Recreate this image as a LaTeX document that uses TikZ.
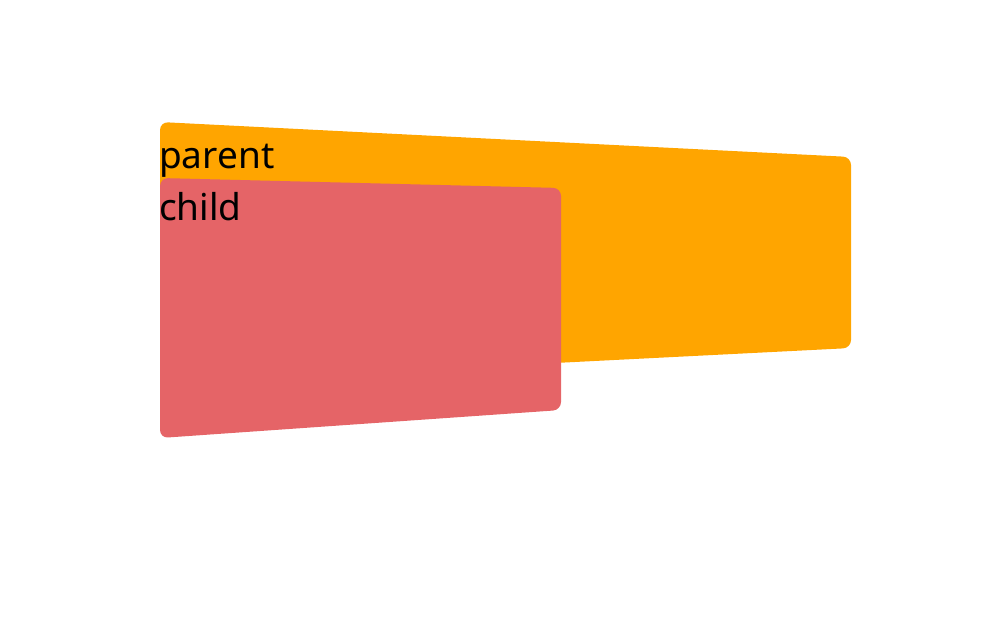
\documentclass[tikz,border=0pt]{standalone}
\usepackage{fontspec}
\setmainfont{Noto Sans}
\definecolor{parentfill}{RGB}{255,165,0}
\definecolor{childfill}{RGB}{229,100,103}
\begin{document}
\begin{tikzpicture}[x=1pt,y=-1pt,
  panel/.style={rounded corners=8pt},
  lbl/.style={anchor=base west,inner sep=0pt,font=\fontsize{37}{41}\selectfont,text=black}]
\useasboundingbox (0,0) rectangle (998,635);
\fill[parentfill,panel] (160,122) -- (851,157) -- (851,348) -- (160,383) -- cycle;
\fill[childfill,panel] (160,178) -- (561,188) -- (561,410) -- (160,438) -- cycle;
\node[lbl] (parent) at (159,168) {parent};
\node[lbl] (child) at (159,220) {child};
\end{tikzpicture}
\end{document}
